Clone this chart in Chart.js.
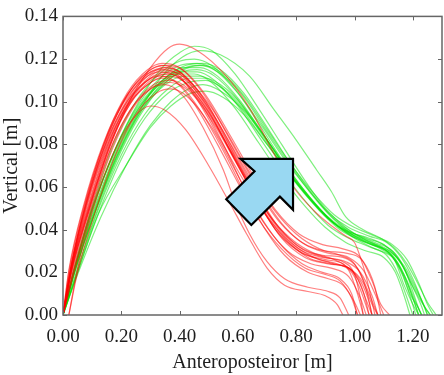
<!DOCTYPE html>
<html>
<head>
<meta charset="utf-8">
<script src="https://cdn.jsdelivr.net/npm/chart.js@4/dist/chart.umd.min.js"></script>
<style>
html,body{margin:0;padding:0;background:#fff;}
#wrap{width:444px;height:375px;position:relative;}
</style>
</head>
<body>
<div id="wrap"><canvas id="c" width="444" height="375"></canvas></div>
<script>
// ---- Data ----
const xTickValues = [0, 0.2, 0.4, 0.6, 0.8, 1.0, 1.2];
const yTickValues = [0, 0.02, 0.04, 0.06, 0.08, 0.10, 0.12, 0.14];
const xTitle = "Anteroposteiror [m]";
const yTitle = "Vertical [m]";

// red trials: [x, y] pairs
const redTrials = [
  [[0,0],[0.03,0.020],[0.08,0.046],[0.15,0.075],[0.22,0.098],[0.30,0.116],[0.36,0.125],[0.40,0.127],[0.46,0.124],[0.56,0.112],[0.64,0.097],[0.73,0.074],[0.79,0.060],[0.86,0.049],[0.91,0.043],[0.97,0.037],[1.00,0.034],[1.02,0.027],[1.04,0.018],[1.06,0.006],[1.07,0]],
  [[0.02,0],[0.05,0.022],[0.10,0.048],[0.17,0.075],[0.24,0.092],[0.30,0.098],[0.35,0.096],[0.42,0.087],[0.50,0.070],[0.57,0.053],[0.63,0.038],[0.70,0.022],[0.76,0.014],[0.84,0.011],[0.90,0.009],[0.94,0.005],[0.96,0]],
  [[0,0],[0.03,0.024],[0.08,0.052],[0.15,0.082],[0.22,0.103],[0.29,0.114],[0.34,0.117],[0.40,0.114],[0.48,0.101],[0.56,0.082],[0.63,0.064],[0.70,0.048],[0.78,0.036],[0.86,0.029],[0.93,0.026],[0.98,0.021],[1.01,0.010],[1.03,0]],
  [[0,0],[0.02,0.020],[0.07,0.050],[0.14,0.080],[0.21,0.100],[0.28,0.111],[0.33,0.114],[0.39,0.112],[0.47,0.100],[0.55,0.080],[0.62,0.060],[0.69,0.043],[0.77,0.030],[0.85,0.024],[0.92,0.022],[0.98,0.018],[1.02,0.008],[1.04,0]],
  [[0,0],[0.03,0.021],[0.09,0.050],[0.16,0.079],[0.23,0.099],[0.30,0.110],[0.36,0.113],[0.42,0.109],[0.50,0.095],[0.58,0.075],[0.66,0.055],[0.74,0.038],[0.82,0.029],[0.90,0.026],[0.96,0.024],[1.01,0.017],[1.04,0.007],[1.06,0]],
  [[0,0],[0.04,0.022],[0.10,0.052],[0.17,0.080],[0.24,0.098],[0.31,0.108],[0.37,0.110],[0.43,0.106],[0.51,0.092],[0.59,0.073],[0.67,0.053],[0.75,0.036],[0.83,0.027],[0.91,0.024],[0.98,0.022],[1.03,0.015],[1.06,0.005],[1.08,0]],
  [[0,0],[0.03,0.023],[0.08,0.051],[0.15,0.080],[0.22,0.100],[0.29,0.112],[0.35,0.116],[0.41,0.113],[0.49,0.100],[0.57,0.081],[0.65,0.061],[0.73,0.043],[0.81,0.032],[0.89,0.028],[0.96,0.027],[1.01,0.022],[1.05,0.010],[1.08,0]],
  [[0.02,0],[0.05,0.020],[0.11,0.048],[0.18,0.075],[0.25,0.094],[0.32,0.104],[0.37,0.106],[0.43,0.102],[0.51,0.088],[0.59,0.068],[0.66,0.050],[0.74,0.034],[0.82,0.024],[0.89,0.020],[0.95,0.017],[0.99,0.010],[1.01,0]],
  [[0,0],[0.03,0.025],[0.08,0.054],[0.15,0.084],[0.22,0.104],[0.29,0.115],[0.34,0.118],[0.40,0.116],[0.48,0.104],[0.56,0.086],[0.64,0.067],[0.72,0.050],[0.80,0.038],[0.88,0.031],[0.95,0.028],[1.00,0.024],[1.04,0.012],[1.06,0]],
  [[0,0],[0.03,0.022],[0.09,0.052],[0.16,0.081],[0.23,0.101],[0.30,0.112],[0.35,0.115],[0.41,0.112],[0.49,0.098],[0.57,0.078],[0.65,0.058],[0.73,0.040],[0.81,0.030],[0.88,0.026],[0.94,0.024],[0.99,0.020],[1.02,0.012],[1.05,0]],
  [[0,0],[0.02,0.018],[0.07,0.048],[0.14,0.078],[0.21,0.098],[0.28,0.109],[0.33,0.112],[0.38,0.110],[0.45,0.099],[0.53,0.080],[0.60,0.062],[0.67,0.045],[0.75,0.031],[0.83,0.022],[0.90,0.019],[0.95,0.016],[0.99,0.008],[1.01,0]],
  [[0,0],[0.04,0.024],[0.10,0.054],[0.17,0.083],[0.24,0.102],[0.31,0.112],[0.37,0.114],[0.43,0.110],[0.51,0.097],[0.59,0.078],[0.67,0.059],[0.75,0.043],[0.83,0.033],[0.91,0.029],[0.98,0.027],[1.03,0.021],[1.07,0.010],[1.10,0]],
  [[0,0],[0.03,0.022],[0.08,0.050],[0.15,0.079],[0.22,0.098],[0.29,0.108],[0.34,0.111],[0.40,0.108],[0.47,0.096],[0.55,0.077],[0.62,0.058],[0.69,0.041],[0.76,0.028],[0.84,0.020],[0.91,0.017],[0.96,0.014],[1.00,0.006],[1.02,0]],
  [[0,0],[0.03,0.024],[0.08,0.053],[0.15,0.083],[0.22,0.103],[0.29,0.114],[0.35,0.117],[0.41,0.115],[0.49,0.103],[0.57,0.085],[0.65,0.066],[0.73,0.049],[0.81,0.038],[0.89,0.033],[0.96,0.031],[1.02,0.027],[1.06,0.016],[1.09,0.005],[1.12,0]],
  [[0,0],[0.03,0.021],[0.09,0.049],[0.16,0.077],[0.23,0.096],[0.30,0.106],[0.35,0.108],[0.41,0.103],[0.48,0.088],[0.55,0.068],[0.59,0.053],[0.64,0.038],[0.70,0.025],[0.76,0.017],[0.84,0.013],[0.91,0.011],[0.95,0.008],[0.98,0]],
  [[0,0],[0.03,0.023],[0.09,0.053],[0.16,0.082],[0.23,0.101],[0.30,0.111],[0.36,0.113],[0.42,0.110],[0.50,0.097],[0.58,0.079],[0.66,0.060],[0.74,0.044],[0.82,0.034],[0.90,0.030],[0.97,0.029],[1.03,0.025],[1.07,0.013],[1.09,0]],
  [[0,0],[0.02,0.021],[0.07,0.051],[0.14,0.081],[0.21,0.101],[0.28,0.112],[0.33,0.115],[0.39,0.113],[0.46,0.101],[0.54,0.082],[0.62,0.063],[0.70,0.046],[0.78,0.034],[0.86,0.027],[0.93,0.024],[0.99,0.021],[1.03,0.011],[1.05,0]],
  [[0,0],[0.04,0.021],[0.10,0.050],[0.17,0.078],[0.24,0.097],[0.31,0.107],[0.37,0.109],[0.44,0.104],[0.52,0.089],[0.60,0.070],[0.68,0.051],[0.76,0.036],[0.84,0.027],[0.92,0.024],[0.98,0.022],[1.02,0.016],[1.05,0.006],[1.06,0]],
  [[0,0],[0.03,0.024],[0.08,0.052],[0.15,0.081],[0.22,0.101],[0.29,0.113],[0.35,0.116],[0.41,0.113],[0.49,0.100],[0.57,0.080],[0.65,0.060],[0.73,0.042],[0.81,0.031],[0.89,0.027],[0.96,0.025],[1.00,0.019],[1.02,0.008],[1.03,0]],
  [[0,0],[0.03,0.022],[0.09,0.051],[0.16,0.080],[0.23,0.099],[0.30,0.109],[0.36,0.112],[0.42,0.109],[0.50,0.095],[0.58,0.076],[0.66,0.057],[0.74,0.041],[0.82,0.031],[0.90,0.027],[0.97,0.025],[1.02,0.020],[1.06,0.009],[1.08,0]]
];

// green trials: [x, y] pairs
const greenTrials = [
  [[0,0],[0.04,0.020],[0.10,0.045],[0.18,0.073],[0.26,0.095],[0.34,0.112],[0.41,0.121],[0.47,0.124],[0.54,0.122],[0.64,0.112],[0.72,0.097],[0.80,0.082],[0.87,0.068],[0.92,0.058],[0.97,0.046],[1.03,0.040],[1.09,0.036],[1.14,0.031],[1.18,0.024],[1.22,0.014],[1.25,0.006],[1.28,0]],
  [[0,0],[0.04,0.022],[0.10,0.049],[0.18,0.078],[0.26,0.100],[0.34,0.116],[0.40,0.123],[0.45,0.126],[0.51,0.124],[0.59,0.113],[0.67,0.097],[0.75,0.080],[0.83,0.063],[0.90,0.050],[0.97,0.041],[1.04,0.035],[1.10,0.031],[1.14,0.025],[1.17,0.014],[1.20,0.005],[1.22,0]],
  [[0,0],[0.04,0.020],[0.11,0.048],[0.19,0.075],[0.27,0.096],[0.35,0.110],[0.42,0.116],[0.47,0.117],[0.53,0.114],[0.61,0.104],[0.69,0.088],[0.77,0.072],[0.85,0.057],[0.92,0.046],[0.99,0.038],[1.06,0.033],[1.12,0.029],[1.16,0.021],[1.19,0.010],[1.22,0.003],[1.23,0]],
  [[0,0],[0.05,0.020],[0.12,0.047],[0.22,0.071],[0.30,0.088],[0.37,0.098],[0.44,0.104],[0.49,0.105],[0.55,0.102],[0.62,0.094],[0.70,0.080],[0.78,0.066],[0.86,0.053],[0.93,0.043],[1.00,0.036],[1.07,0.031],[1.13,0.027],[1.17,0.018],[1.20,0.008],[1.22,0]],
  [[0,0],[0.04,0.021],[0.11,0.050],[0.19,0.078],[0.27,0.098],[0.35,0.111],[0.42,0.117],[0.48,0.118],[0.54,0.115],[0.62,0.104],[0.70,0.088],[0.78,0.071],[0.86,0.056],[0.93,0.045],[1.00,0.038],[1.07,0.034],[1.13,0.030],[1.17,0.022],[1.21,0.012],[1.24,0.004],[1.25,0]],
  [[0,0],[0.04,0.022],[0.10,0.050],[0.18,0.078],[0.26,0.098],[0.34,0.110],[0.40,0.114],[0.46,0.114],[0.52,0.110],[0.60,0.098],[0.68,0.082],[0.76,0.066],[0.84,0.052],[0.91,0.042],[0.98,0.036],[1.05,0.032],[1.11,0.028],[1.15,0.019],[1.18,0.008],[1.20,0]],
  [[0,0],[0.05,0.021],[0.12,0.049],[0.20,0.075],[0.28,0.094],[0.36,0.106],[0.43,0.111],[0.49,0.111],[0.56,0.106],[0.64,0.094],[0.72,0.078],[0.80,0.062],[0.88,0.049],[0.95,0.040],[1.02,0.035],[1.09,0.031],[1.14,0.026],[1.18,0.016],[1.21,0.006],[1.23,0]],
  [[0,0],[0.04,0.023],[0.10,0.051],[0.17,0.079],[0.25,0.100],[0.33,0.113],[0.40,0.119],[0.45,0.120],[0.51,0.117],[0.59,0.106],[0.67,0.090],[0.75,0.073],[0.83,0.058],[0.90,0.047],[0.97,0.040],[1.04,0.036],[1.10,0.033],[1.15,0.027],[1.19,0.016],[1.23,0.006],[1.26,0]],
  [[0,0],[0.05,0.019],[0.13,0.046],[0.22,0.071],[0.30,0.089],[0.37,0.100],[0.43,0.106],[0.48,0.108],[0.54,0.105],[0.62,0.096],[0.70,0.082],[0.78,0.067],[0.86,0.053],[0.93,0.043],[1.00,0.037],[1.07,0.033],[1.12,0.029],[1.16,0.020],[1.19,0.009],[1.21,0]],
  [[0,0],[0.04,0.021],[0.11,0.049],[0.19,0.077],[0.27,0.097],[0.35,0.109],[0.41,0.114],[0.46,0.115],[0.52,0.112],[0.60,0.101],[0.68,0.085],[0.76,0.069],[0.84,0.055],[0.91,0.045],[0.98,0.039],[1.05,0.036],[1.11,0.032],[1.16,0.024],[1.20,0.013],[1.23,0.004],[1.24,0]],
  [[0,0],[0.04,0.022],[0.10,0.050],[0.18,0.077],[0.26,0.097],[0.34,0.109],[0.40,0.113],[0.45,0.113],[0.51,0.109],[0.59,0.097],[0.67,0.081],[0.75,0.065],[0.83,0.051],[0.90,0.041],[0.97,0.034],[1.04,0.030],[1.10,0.027],[1.14,0.020],[1.17,0.009],[1.19,0]],
  [[0,0],[0.05,0.022],[0.12,0.050],[0.20,0.077],[0.28,0.097],[0.36,0.110],[0.43,0.116],[0.48,0.117],[0.54,0.114],[0.62,0.103],[0.70,0.087],[0.78,0.071],[0.86,0.057],[0.93,0.047],[1.00,0.041],[1.07,0.037],[1.13,0.033],[1.18,0.026],[1.22,0.015],[1.25,0.005],[1.27,0]],
  [[0,0],[0.04,0.020],[0.11,0.048],[0.19,0.076],[0.27,0.096],[0.35,0.108],[0.42,0.112],[0.47,0.112],[0.53,0.108],[0.61,0.097],[0.69,0.082],[0.77,0.067],[0.85,0.054],[0.92,0.044],[0.99,0.038],[1.06,0.034],[1.12,0.030],[1.17,0.022],[1.20,0.011],[1.22,0.003],[1.23,0]],
  [[0,0],[0.04,0.021],[0.10,0.049],[0.18,0.078],[0.26,0.099],[0.34,0.112],[0.40,0.117],[0.46,0.118],[0.52,0.115],[0.60,0.104],[0.68,0.089],[0.76,0.073],[0.84,0.059],[0.91,0.048],[0.98,0.041],[1.05,0.037],[1.11,0.034],[1.16,0.027],[1.20,0.017],[1.23,0.007],[1.25,0]],
  [[0,0],[0.05,0.020],[0.12,0.047],[0.20,0.073],[0.28,0.092],[0.36,0.104],[0.43,0.109],[0.49,0.110],[0.55,0.106],[0.63,0.095],[0.71,0.080],[0.79,0.064],[0.87,0.051],[0.94,0.042],[1.01,0.036],[1.08,0.032],[1.13,0.028],[1.17,0.019],[1.20,0.008],[1.22,0]],
  [[0,0],[0.04,0.022],[0.11,0.051],[0.19,0.079],[0.27,0.099],[0.35,0.111],[0.41,0.116],[0.47,0.116],[0.53,0.112],[0.61,0.100],[0.69,0.084],[0.77,0.068],[0.85,0.054],[0.92,0.044],[0.99,0.037],[1.06,0.033],[1.12,0.030],[1.17,0.023],[1.21,0.013],[1.24,0.004],[1.26,0]]
];

// arrow annotation outline, in data units [x, y]
const arrowShape = [[0.609,0.0732],[0.789,0.0732],[0.789,0.0493],[0.744,0.0555],[0.646,0.0422],[0.560,0.0543],[0.657,0.0674]];

// ---- Chart ----
const FONT = '"Liberation Serif", "Times New Roman", serif';
const TEXT = '#1e1e1e';

function toPts(trial){ return trial.map(p => ({x: p[0], y: p[1]})); }

const datasets = [];
redTrials.forEach((t, i) => datasets.push({
  label: 'red' + (i+1), data: toPts(t), showLine: true, pointRadius: 0,
  borderColor: 'rgba(255,0,0,0.5)', borderWidth: 1.2, fill: false,
  cubicInterpolationMode: 'monotone'
}));
greenTrials.forEach((t, i) => datasets.push({
  label: 'green' + (i+1), data: toPts(t), showLine: true, pointRadius: 0,
  borderColor: 'rgba(0,225,0,0.5)', borderWidth: 1.2, fill: false,
  cubicInterpolationMode: 'monotone'
}));

const framePlugin = {
  id: 'frame',
  afterDatasetsDraw(chart) {
    const ctx = chart.ctx;
    const xs = chart.scales.x, ys = chart.scales.y;
    // arrow
    ctx.save();
    ctx.beginPath();
    arrowShape.forEach((p, i) => {
      const px = xs.getPixelForValue(p[0]), py = ys.getPixelForValue(p[1]);
      if (i === 0) ctx.moveTo(px, py); else ctx.lineTo(px, py);
    });
    ctx.closePath();
    ctx.fillStyle = '#99d8f2';
    ctx.fill();
    ctx.lineWidth = 2.2;
    ctx.lineJoin = 'miter';
    ctx.strokeStyle = '#000';
    ctx.stroke();
    ctx.restore();

    // frame and inward ticks
    const a = chart.chartArea;
    ctx.save();
    ctx.strokeStyle = '#666';
    ctx.lineWidth = 1.5;
    ctx.strokeRect(a.left, a.top, a.right - a.left, a.bottom - a.top);
    ctx.lineWidth = 1;
    ctx.beginPath();
    const tl = 4;
    xTickValues.forEach(v => {
      const px = Math.round(xs.getPixelForValue(v)) + 0.5;
      ctx.moveTo(px, a.bottom); ctx.lineTo(px, a.bottom - tl);
      ctx.moveTo(px, a.top); ctx.lineTo(px, a.top + tl);
    });
    yTickValues.forEach(v => {
      const py = Math.round(ys.getPixelForValue(v)) + 0.5;
      ctx.moveTo(a.left, py); ctx.lineTo(a.left + tl, py);
      ctx.moveTo(a.right, py); ctx.lineTo(a.right - tl, py);
    });
    ctx.stroke();
    ctx.restore();
  }
};

new Chart(document.getElementById('c'), {
  type: 'scatter',
  data: { datasets },
  options: {
    responsive: false,
    animation: false,
    devicePixelRatio: 1,
    layout: { padding: { top: 14, right: 2, left: 0, bottom: 0 } },
    plugins: { legend: { display: false }, tooltip: { enabled: false } },
    scales: {
      x: {
        type: 'linear', min: 0, max: 1.3,
        afterBuildTicks: s => { s.ticks = xTickValues.map(v => ({ value: v })); },
        afterFit: s => { s.height = 60; },
        grid: { display: false, drawTicks: false },
        border: { display: false },
        ticks: { padding: 11, color: TEXT, font: { family: FONT, size: 19 }, maxRotation: 0,
                 callback: v => Number(v).toFixed(2) },
        title: { display: true, text: xTitle, color: TEXT, font: { family: FONT, size: 20 },
                 padding: { top: 0, bottom: 0 } }
      },
      y: {
        type: 'linear', min: 0, max: 0.14,
        afterBuildTicks: s => { s.ticks = yTickValues.map(v => ({ value: v })); },
        afterFit: s => { s.width = 63; },
        grid: { display: false, drawTicks: false },
        border: { display: false },
        ticks: { padding: 5, color: TEXT, font: { family: FONT, size: 19 },
                 callback: v => Number(v).toFixed(2) },
        title: { display: true, text: yTitle, color: TEXT, font: { family: FONT, size: 20 },
                 padding: { top: 0, bottom: 0 } }
      }
    }
  },
  plugins: [framePlugin]
});
</script>
</body>
</html>
